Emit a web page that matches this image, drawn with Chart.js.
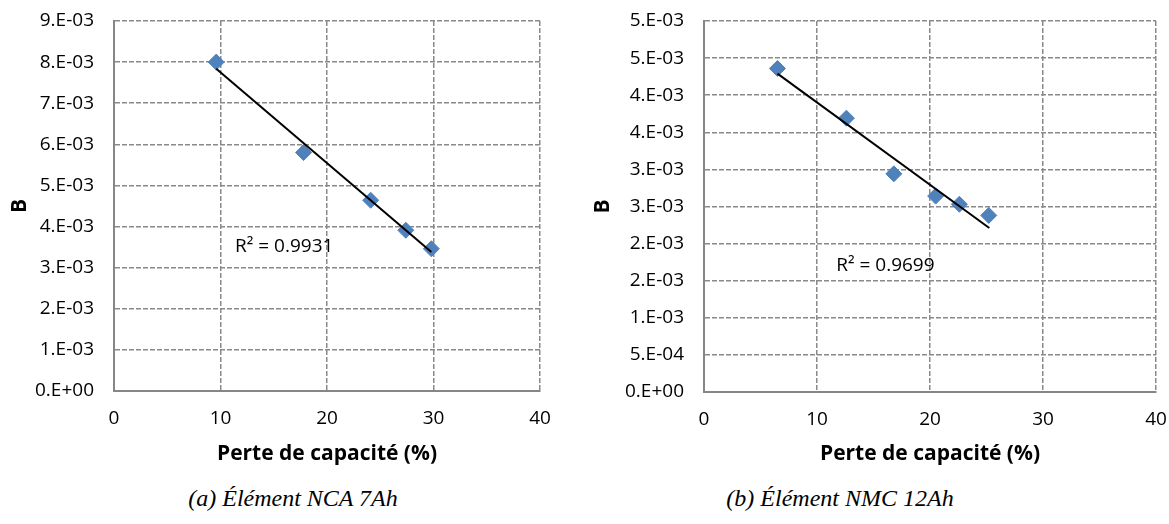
<!DOCTYPE html>
<html>
<head>
<meta charset="utf-8">
<script src="https://cdn.jsdelivr.net/npm/chart.js@4/dist/chart.umd.min.js"></script>
<style>
  body { margin: 0; background: #fff; width: 1169px; height: 524px; overflow: hidden; position: relative; }
  .box { position: absolute; top: 0; }
  .caption { position: absolute; top: 482px; width: 400px; text-align: center; font: italic 24px 'Liberation Serif', serif; line-height: 32px; color: #000; }
</style>
</head>
<body>
<div class="box" style="left:0px"><canvas id="chartA" width="580" height="480"></canvas></div>
<div class="box" style="left:585px"><canvas id="chartB" width="584" height="480"></canvas></div>
<div class="caption" style="left:93px">(a) Élément NCA 7Ah</div>
<div class="caption" style="left:640px">(b) Élément NMC 12Ah</div>
<script>
// NCA 7Ah
const lossA = [9.6, 17.8, 24.1, 27.4, 29.8]
const bA = [8.0e-3, 5.80e-3, 4.64e-3, 3.91e-3, 3.46e-3]
const trendXA = [9.6, 29.8]
const trendYA = [7.84e-3, 3.38e-3]
const yTicksA = ['0.E+00', '1.E-03', '2.E-03', '3.E-03', '4.E-03', '5.E-03', '6.E-03', '7.E-03', '8.E-03', '9.E-03']
const r2A = 'R² = 0.9931'

// NMC 12Ah
const lossB = [6.5, 12.6, 16.8, 20.5, 22.6, 25.2]
const bB = [4.36e-3, 3.69e-3, 2.94e-3, 2.64e-3, 2.53e-3, 2.38e-3]
const trendXB = [6.5, 25.25]
const trendYB = [4.29e-3, 2.21e-3]
const yTicksB = ['0.E+00', '5.E-04', '1.E-03', '2.E-03', '2.E-03', '3.E-03', '3.E-03', '4.E-03', '4.E-03', '5.E-03', '5.E-03']
const r2B = 'R² = 0.9699'

const xTicks = ['0', '10', '20', '30', '40']

const tickFont = { family: "'Open Sans', sans-serif", size: 19 }
const titleFont = { family: "'Open Sans', sans-serif", size: 21, weight: 'bold' }
const gridColor = '#8a8a8a'
const axisColor = '#868686'

// draws the R² text at a data position
const r2Label = {
    id: 'r2Label',
    afterDatasetsDraw(chart, args, opts) {
        const ctx = chart.ctx
        const px = chart.scales.x.getPixelForValue(opts.x)
        const py = chart.scales.y.getPixelForValue(opts.y)
        ctx.save()
        ctx.font = "19px 'Open Sans', sans-serif"
        ctx.fillStyle = '#000'
        ctx.textAlign = 'left'
        ctx.textBaseline = 'middle'
        ctx.fillText(opts.text, px, py)
        ctx.restore()
    }
}

function makeChart(id, xs, ys, tx, ty, yMax, yStep, yLabels, r2, r2x, r2y, lay) {
    const pts = xs.map((x, i) => ({ x: x, y: ys[i] }))
    const line = tx.map((x, i) => ({ x: x, y: ty[i] }))
    return new Chart(document.getElementById(id), {
        type: 'scatter',
        data: {
            datasets: [
                {
                    data: line,
                    showLine: true,
                    borderColor: '#000',
                    borderWidth: 2,
                    pointRadius: 0,
                    order: 0
                },
                {
                    data: pts,
                    pointStyle: 'rectRot',
                    pointRadius: 8,
                    backgroundColor: '#4f81bd',
                    borderColor: '#4f81bd',
                    borderWidth: 1,
                    order: 1
                }
            ]
        },
        options: {
            responsive: false,
            animation: false,
            layout: { padding: { left: lay.left, top: 21, right: lay.right, bottom: 9 } },
            plugins: {
                legend: { display: false },
                tooltip: { enabled: false },
                r2Label: { text: r2, x: r2x, y: r2y }
            },
            scales: {
                x: {
                    type: 'linear',
                    min: 0,
                    max: 40,
                    ticks: {
                        stepSize: 10,
                        padding: 16,
                        color: '#000',
                        font: tickFont,
                        maxRotation: 0,
                        callback: (v, i) => xTicks[i]
                    },
                    grid: { color: gridColor, lineWidth: 1.5, drawTicks: false },
                    border: { display: true, color: axisColor, width: 2, dash: [5, 2] },
                    title: { display: true, text: 'Perte de capacité (%)', color: '#000', font: titleFont, padding: 4 },
                    afterFit: s => {
                        s.height = lay.xh
                        s.paddingLeft = 0
                        s.paddingRight = 0
                    }
                },
                y: {
                    type: 'linear',
                    min: 0,
                    max: yMax,
                    ticks: {
                        stepSize: yStep,
                        padding: 20,
                        color: '#000',
                        font: tickFont,
                        callback: (v, i) => yLabels[i]
                    },
                    grid: { color: gridColor, lineWidth: 1.5, drawTicks: false },
                    border: { display: true, color: axisColor, width: 2, dash: [5, 2] },
                    title: { display: true, text: 'B', color: '#000', font: titleFont, padding: 4 },
                    afterFit: s => {
                        s.width = lay.yw
                        s.paddingTop = 0
                        s.paddingBottom = 0
                    }
                }
            }
        },
        plugins: [r2Label]
    })
}

makeChart('chartA', lossA, bA, trendXA, trendYA, 9e-3, 1e-3, yTicksA, r2A, 11.36, 3.52e-3,
    { left: 3, right: 40, yw: 111, xh: 80 })
makeChart('chartB', lossB, bB, trendXB, trendYB, 5e-3, 5e-4, yTicksB, r2B, 11.7, 1.71e-3,
    { left: 1, right: 13, yw: 118, xh: 79 })
</script>
</body>
</html>
